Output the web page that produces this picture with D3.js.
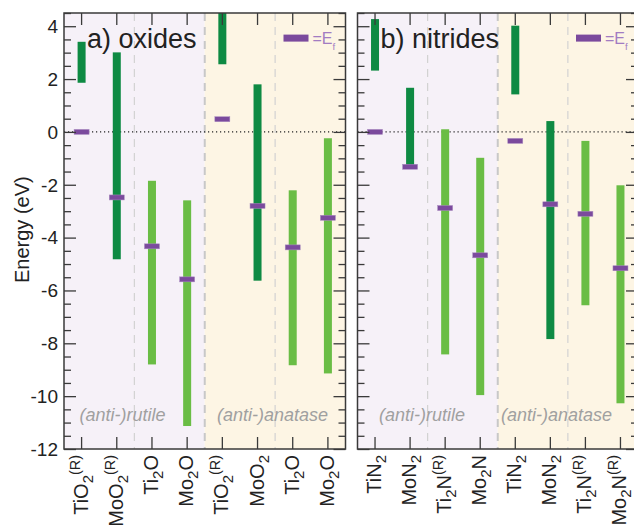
<!DOCTYPE html>
<html>
<head>
<meta charset="utf-8">
<script src="https://cdn.jsdelivr.net/npm/d3@7"></script>
<style>
  body { margin: 0; background: #fff; }
  svg { display: block; font-family: "Liberation Sans", "DejaVu Sans", sans-serif; }
</style>
</head>
<body>
<div id="chart"></div>
<script>
// ---- data (energies in eV) ----
const oxideLabels = ["TiO_2^(R)", "MoO_2^(R)", "Ti_2O", "Mo_2O", "TiO_2^(R)", "MoO_2", "Ti_2O", "Mo_2O"];
const oxideTop    = [3.41, 3.01, -1.85, -2.59, 4.8, 1.80, -2.21, -0.24];
const oxideBottom = [1.86, -4.82, -8.80, -11.13, 2.56, -5.63, -8.83, -9.14];
const oxideFermi  = [0, -2.48, -4.33, -5.58, 0.48, -2.80, -4.37, -3.25];

const nitrideLabels = ["TiN_2", "MoN_2", "Ti_2N^(R)", "Mo_2N", "TiN_2", "MoN_2", "Ti_2N^(R)", "Mo_2N^(R)"];
const nitrideTop    = [4.27, 1.67, 0.10, -0.98, 4.02, 0.41, -0.34, -2.02];
const nitrideBottom = [2.32, -1.32, -8.42, -9.96, 1.42, -7.84, -6.56, -10.27];
const nitrideFermi  = [0, -1.32, -2.88, -4.67, -0.34, -2.74, -3.10, -5.16];

// dark = non-metal rich, light = metal rich
const barShade = ["dark", "dark", "light", "light", "dark", "dark", "light", "light"];

const yMajorTicks = [-12, -10, -8, -6, -4, -2, 0, 2, 4];
const yDomain = [-12, 4.5];

const panels = [
    { id: "a", title: "a) oxides", labels: oxideLabels, top: oxideTop, bottom: oxideBottom, fermi: oxideFermi,
      x0: 64, x1: 345.5, showY: true, notes: [[79.5, "(anti-)rutile"], [217, "(anti-)anatase"]] },
    { id: "b", title: "b) nitrides", labels: nitrideLabels, top: nitrideTop, bottom: nitrideBottom, fermi: nitrideFermi,
      x0: 357.5, x1: 638, showY: false, notes: [[379, "(anti-)rutile"], [501, "(anti-)anatase"]] }
];

const colors = { dark: "#0e8a43", light: "#6abd45", fermi: "#7b4a9d", legend: "#a27cc2",
                 rutileBg: "#f6f1f8", anataseBg: "#fdf5e4", frame: "#3a3a3a", note: "#a0a0a0" };

// ---- svg ----
const width = 634, height = 529;
const plotTop = 13, plotBottom = 449;

const svg = d3.select("#chart").append("svg")
    .attr("width", width)
    .attr("height", height);

const y = d3.scaleLinear().domain(yDomain).range([plotBottom, plotTop]);

// renders "TiO_2^(R)" as tspans with sub/superscripts
function chemLabel(textSel, label) {
    const re = /_(\w)|\^(\(\w\))|([^_^]+)/g;
    let m;
    while ((m = re.exec(label)) !== null) {
        if (m[1]) {
            textSel.append("tspan").attr("baseline-shift", "-30%").attr("font-size", "0.75em").text(m[1]);
        } else if (m[2]) {
            textSel.append("tspan").attr("baseline-shift", "60%").attr("font-size", "0.72em").text(m[2]);
        } else {
            textSel.append("tspan").text(m[3]);
        }
    }
}

panels.forEach(p => {
    const x = d3.scaleBand()
        .domain(d3.range(p.labels.length))
        .range([p.x0, p.x1])
        .padding(0);
    const bw = x.bandwidth();

    const g = svg.append("g");

    const clipId = "clip-" + p.id;
    svg.append("clipPath").attr("id", clipId)
        .append("rect")
        .attr("x", p.x0).attr("y", plotTop)
        .attr("width", p.x1 - p.x0).attr("height", plotBottom - plotTop);

    // backgrounds
    g.append("rect")
        .attr("x", x(0)).attr("y", plotTop)
        .attr("width", bw * 4).attr("height", plotBottom - plotTop)
        .attr("fill", colors.rutileBg);
    g.append("rect")
        .attr("x", x(4)).attr("y", plotTop)
        .attr("width", bw * 4).attr("height", plotBottom - plotTop)
        .attr("fill", colors.anataseBg);

    // dashed separators
    [2, 4, 6].forEach(i => {
        g.append("line")
            .attr("x1", x(i)).attr("x2", x(i))
            .attr("y1", plotTop).attr("y2", plotBottom)
            .attr("stroke", i === 4 ? "#c8c8c8" : "#d2d2d2")
            .attr("stroke-width", i === 4 ? 2 : 1.2)
            .attr("stroke-dasharray", "8,6");
    });

    // region notes
    p.notes.forEach(([nx, txt]) => {
        g.append("text")
            .attr("x", nx).attr("y", y(-10.7))
            .attr("dy", "0.35em")
            .attr("font-size", 18)
            .attr("font-style", "italic")
            .attr("fill", colors.note)
            .text(txt);
    });

    // zero line
    g.append("line")
        .attr("x1", p.x0).attr("x2", p.x1)
        .attr("y1", y(0)).attr("y2", y(0))
        .attr("stroke", "#222")
        .attr("stroke-width", 1.2)
        .attr("stroke-dasharray", "1.2,2.8");

    const marks = g.append("g").attr("clip-path", `url(#${clipId})`);

    // gaps
    marks.selectAll(".gap")
        .data(p.labels.map((d, i) => i))
        .join("rect")
        .attr("class", "gap")
        .attr("x", i => x(i) + bw / 2 - 4)
        .attr("width", 8)
        .attr("y", i => y(p.top[i]))
        .attr("height", i => y(p.bottom[i]) - y(p.top[i]))
        .attr("fill", i => colors[barShade[i]]);

    // fermi levels
    marks.selectAll(".ef")
        .data(p.labels.map((d, i) => i))
        .join("rect")
        .attr("class", "ef")
        .attr("x", i => x(i) + bw / 2 - 7.5)
        .attr("width", 15)
        .attr("y", i => y(p.fermi[i]) - 2.5)
        .attr("height", 5)
        .attr("fill", colors.fermi)
        .attr("stroke", "#a98cc0")
        .attr("stroke-width", 0.5);

    // y axes (left and right, ticks inward)
    const minor = d3.range(yDomain[0], yDomain[1] + 0.01, 0.5).filter(v => v % 2 !== 0);
    const leftMajor = d3.axisRight(y).tickValues(yMajorTicks).tickSize(12).tickFormat("");
    const leftMinor = d3.axisRight(y).tickValues(minor).tickSize(7).tickFormat("");
    const rightMajor = d3.axisLeft(y).tickValues(yMajorTicks).tickSize(12).tickFormat("");
    const rightMinor = d3.axisLeft(y).tickValues(minor).tickSize(7).tickFormat("");

    [[leftMajor, p.x0], [leftMinor, p.x0], [rightMajor, p.x1], [rightMinor, p.x1]].forEach(([ax, tx]) => {
        const a = g.append("g").attr("transform", `translate(${tx},0)`).call(ax);
        a.select(".domain").remove();
        a.selectAll("line").attr("stroke", colors.frame).attr("stroke-width", 1.3);
    });

    // x ticks top and bottom (inward)
    const topAx = g.append("g").attr("transform", `translate(0,${plotTop})`)
        .call(d3.axisBottom(x).tickSize(12).tickFormat(""));
    topAx.select(".domain").remove();
    topAx.selectAll("line").attr("stroke", colors.frame).attr("stroke-width", 1.3);
    const botAx = g.append("g").attr("transform", `translate(0,${plotBottom})`)
        .call(d3.axisTop(x).tickSize(12).tickFormat(""));
    botAx.select(".domain").remove();
    botAx.selectAll("line").attr("stroke", colors.frame).attr("stroke-width", 1.3);

    // frame
    g.append("rect")
        .attr("x", p.x0).attr("y", plotTop)
        .attr("width", p.x1 - p.x0).attr("height", plotBottom - plotTop)
        .attr("fill", "none")
        .attr("stroke", colors.frame)
        .attr("stroke-width", 1.5);

    // y tick labels
    if (p.showY) {
        g.selectAll(".ylab")
            .data(yMajorTicks)
            .join("text")
            .attr("class", "ylab")
            .attr("x", p.x0 - 6)
            .attr("y", d => y(d))
            .attr("dy", "0.36em")
            .attr("text-anchor", "end")
            .attr("font-size", 19)
            .attr("fill", "#222")
            .text(d => d);

        svg.append("text")
            .attr("transform", `translate(29,${y(-3.7)}) rotate(-90)`)
            .attr("text-anchor", "middle")
            .attr("font-size", 20)
            .attr("fill", "#222")
            .text("Energy (eV)");
    }

    // category labels, rotated
    p.labels.forEach((lab, i) => {
        const t = g.append("text")
            .attr("transform", `translate(${x(i) + bw / 2 + 6},${plotBottom + 6}) rotate(-90)`)
            .attr("text-anchor", "end")
            .attr("font-size", 20)
            .attr("fill", "#222");
        chemLabel(t, lab);
    });

    // title
    g.append("text")
        .attr("x", p.x0 + 23)
        .attr("y", y(3.17))
        .attr("font-size", 27)
        .attr("fill", "#222")
        .text(p.title);

    // legend: fermi level
    const lg = g.append("g").attr("transform", `translate(${p.x1 - 62},${y(3.55)})`);
    lg.append("rect")
        .attr("width", 25).attr("height", 7)
        .attr("y", -3.5)
        .attr("fill", colors.fermi);
    const lt = lg.append("text")
        .attr("x", 29).attr("dy", "0.36em")
        .attr("font-size", 16)
        .attr("fill", colors.legend);
    lt.append("tspan").text("=E");
    lt.append("tspan").attr("baseline-shift", "sub").attr("font-size", "0.6em").text("f");
});
</script>
</body>
</html>
